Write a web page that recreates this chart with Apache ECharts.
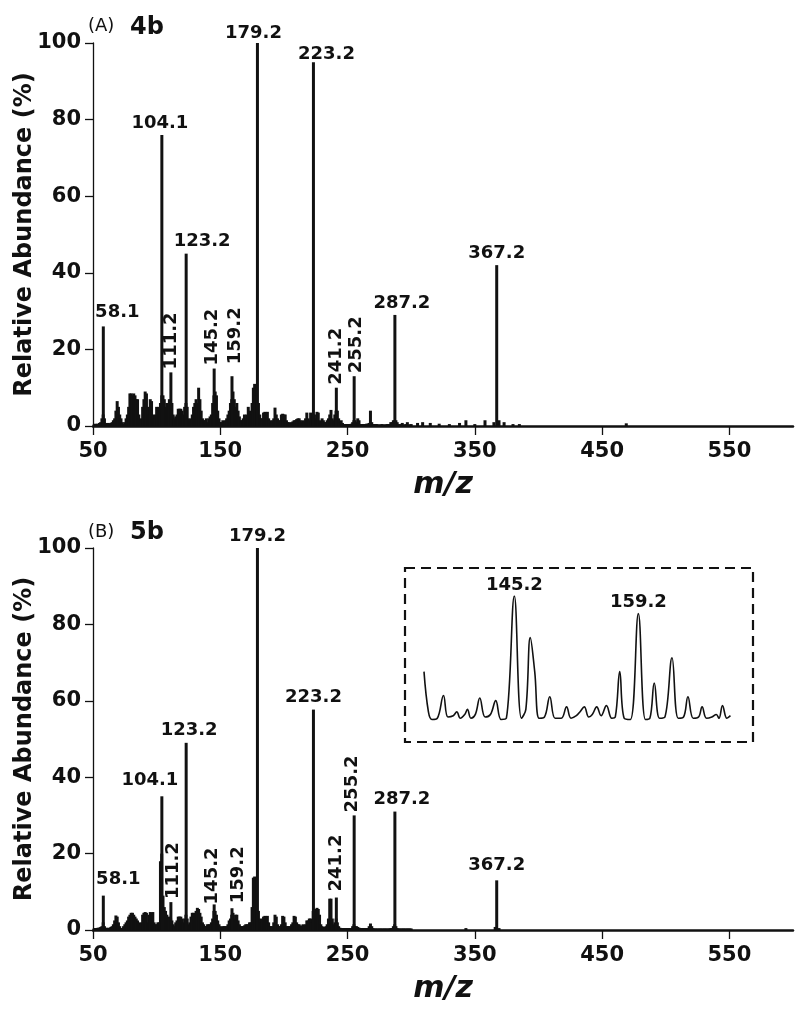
<!DOCTYPE html>
<html>
<head>
<meta charset="utf-8">
<title>ESI-MS/MS 4b / 5b</title>
<script src="https://cdn.jsdelivr.net/npm/echarts@6/dist/echarts.min.js"></script>
<style>
  html, body { margin: 0; padding: 0; background: #fff; }
  #main { width: 800px; height: 1012px; }
</style>
</head>
<body>
<div id="main"></div>
<script>
var xTicks = [50, 150, 250, 350, 450, 550];

// labelled peaks (same m/z for both spectra)
var peakMz = [58.1, 104.1, 111.2, 123.2, 145.2, 159.2, 179.2, 223.2, 241.2, 255.2, 287.2, 367.2];
var peakAbA = [26, 76, 14, 45, 15, 13, 100, 95, 10, 13, 29, 42];
var peakAbB = [9, 35, 7.3, 49, 6.7, 5.7, 100, 57.7, 8.5, 30, 31, 13];
var verticalLabels = [111.2, 145.2, 159.2, 241.2, 255.2];

// background ions, one value per m/z from 50 to 300
var noiseA = [
  0.5, 0.5, 0.6, 0.5, 0.6, 0.8, 1, 2, 3, 2,
  0.8, 0.6, 0.8, 0.6, 0.8, 1, 1.5, 2, 4, 6.5,
  5, 3, 2, 1, 0.5, 1, 2, 3, 5, 8.5,
  8.5, 8, 8.5, 8, 7, 7, 3, 1.5, 2, 5,
  7, 9, 8.5, 5, 3, 7, 6.5, 3, 2, 3,
  5, 4, 5, 6, 8, 8, 7, 5, 6, 5,
  7, 6, 6, 3, 2, 2.5, 3, 4.5, 4.5, 4.5,
  4, 3, 5, 6, 5, 2, 1.5, 2, 3, 5,
  6, 7, 6, 10, 7, 4, 2, 1.5, 1.5, 2,
  1, 2, 2.5, 3, 6, 8, 9, 8, 4, 2,
  1, 1, 1.5, 1, 1.5, 2, 3, 4, 6, 7,
  9, 7, 5, 6, 4, 2.5, 1.5, 1.5, 2, 3,
  2, 3, 5, 4, 3, 6, 10, 11, 8, 6,
  6, 3, 2, 2, 3.5, 3.7, 3.5, 3.7, 2, 1.5,
  1, 1.5, 2, 4.8, 3, 2, 1.5, 1.5, 3, 3.2,
  3, 3, 1.5, 1, 1, 0.8, 1, 1.2, 1.5, 1.5,
  1.8, 2, 2, 1.5, 1, 1.5, 1.2, 2, 3.5, 2,
  1.5, 3.5, 2, 3, 3, 2, 3.7, 3.5, 1.5, 1,
  2, 1.5, 1, 1, 1.5, 2, 3, 4.2, 2, 1.5,
  3, 4, 4, 2, 1, 1.5, 0.8, 0.5, 0.5, 0.5,
  0.5, 0.5, 0.5, 0.6, 1, 1.5, 1.5, 1, 2, 1.5,
  0.5, 0.5, 0.5, 0.5, 0.5, 0.6, 0.6, 0.8, 4, 1,
  0.5, 0.5, 0.5, 0.5, 0.4, 0.4, 0.4, 0.5, 0.4, 0.4,
  0.4, 0.5, 0.5, 0.5, 1, 1, 1.5, 1.5, 1.5, 1,
  0.5, 0.4, 0.5, 0.8, 0.4, 0.4, 0.5, 1, 0.4, 0.4, 0.5
];
var tailA = [[305, 0.8], [309, 1], [315, 0.8], [322, 0.6], [330, 0.5], [338, 0.8], [343, 1.5],
  [350, 0.5], [358, 1.5], [365, 1], [369, 1.5], [373, 1], [380, 0.5], [385, 0.5], [469, 0.7]];

var noiseB = [
  0.5, 0.5, 0.5, 0.5, 0.6, 0.6, 0.8, 1, 2, 1,
  0.6, 0.5, 0.6, 0.5, 0.8, 1, 1.5, 2.5, 3.8, 3.5,
  2, 1, 0.5, 0.5, 1, 1.5, 2, 2.5, 3.5, 4,
  4.5, 4.5, 4, 3.5, 3, 2.5, 2, 1.5, 2, 4,
  4.5, 4.7, 4.5, 2, 4, 4.7, 4.5, 4.7, 2, 1.5,
  1.5, 2, 2, 18, 20, 9, 6, 5, 4, 3,
  3.5, 3, 2.5, 1.5, 1, 2, 2.5, 3.5, 3.5, 3.5,
  3, 2, 3, 4, 3, 1.5, 2, 3.5, 4.5, 4.5,
  4, 5, 5.8, 5.5, 4.5, 3.5, 2, 1.5, 1, 1,
  1.5, 1.5, 1.5, 2, 3, 5, 5, 4, 2.5, 1.5,
  1, 0.8, 1, 1, 1, 1, 1.5, 2.5, 3, 4,
  4.5, 3, 4, 4, 2.5, 1.5, 1, 1, 1, 1.2,
  1.5, 1.5, 1.5, 2, 2, 6, 13.7, 14, 10, 5,
  5, 3, 2, 3, 3.5, 3.7, 3.5, 3.7, 2, 1,
  1, 1, 2, 4, 3.5, 1.5, 1, 1, 1.5, 3.7,
  3.5, 2, 1, 1, 1, 1, 1.5, 2, 3.7, 3.5,
  2, 1.5, 1.5, 1.2, 1, 1.5, 1.2, 1.5, 2.5, 2.5,
  3, 3, 2, 5, 5, 5.5, 5.8, 5.5, 4, 1.5,
  1, 0.8, 0.8, 1, 1.5, 3, 8.2, 8.2, 3, 1.5,
  2, 3, 2, 1, 0.6, 0.5, 0.5, 0.5, 0.5, 0.5,
  0.5, 0.5, 0.5, 0.5, 1, 1.5, 1, 1, 0.8, 0.6,
  0.5, 0.5, 0.5, 0.5, 0.5, 0.5, 0.5, 1, 1.7, 1,
  0.5, 0.4, 0.4, 0.4, 0.4, 0.4, 0.4, 0.4, 0.4, 0.4,
  0.4, 0.4, 0.4, 0.4, 0.5, 0.5, 1, 1.5, 1, 0.5,
  0.4, 0.4, 0.4, 0.4, 0.4, 0.4, 0.4, 0.4, 0.4, 0.4, 0.4
];
var tailB = [[343, 0.5], [366, 0.8], [369, 0.5]];

// inset of 5b, profile trace m/z 135-170
var insetMz = [135.0, 135.5, 135.9, 136.5, 137.2, 137.7, 138.3, 138.7, 139.1, 139.6, 139.9, 140.3, 140.8,
  141.3, 141.9, 142.5, 143.1, 143.7, 144.3, 145.2, 146.0, 146.5, 147.0, 147.5, 148.0, 148.6, 149.2,
  149.8, 150.5, 151.1, 151.6, 152.2, 152.6, 153.1, 153.6, 154.0, 154.5, 155.0, 155.6, 156.2, 156.6,
  157.1, 157.6, 158.3, 159.2, 160.0, 160.5, 161.0, 161.6, 162.2, 163.0, 163.7, 164.3, 164.8, 165.4,
  166.0, 166.4, 166.9, 167.5, 168.0, 168.3, 168.7, 169.2, 169.6];
var insetAb = [40, 8, 2, 3, 21, 4, 5, 8, 3, 6, 10, 3, 6,
  19, 4, 6, 17, 2, 3, 100, 3, 10, 67, 40, 3, 4, 20,
  3, 3, 12, 3, 5, 8, 12, 4, 6, 12, 5, 13, 3, 4,
  40, 3, 2, 86, 2, 3, 31, 3, 4, 51, 3, 4, 20, 3,
  4, 12, 3, 4, 6, 3, 13, 3, 5];
var insetLabels = [145.2, 159.2];

var FONT = 'DejaVu Sans';
var INK = '#111';

// small screen shifts [dx, dy] of peak labels, as placed in the figure
var labelNudge = {
  A: {'58.1': [14, -2], '104.1': [-2, 0], '123.2': [16, 0], '179.2': [-4, 2], '223.2': [13, 4],
      '287.2': [7, 0], '145.2': [-2, 0], '159.2': [3, -9], '255.2': [2, 0]},
  B: {'58.1': [15, -4], '104.1': [-12, -4], '111.2': [2, 0], '123.2': [3, 0], '145.2': [-2, 3],
      '159.2': [6, -2], '241.2': [0, -3], '255.2': [-2, 0], '287.2': [7, 0], '367.2': [0, -3]}
};

function buildSticks(noise, tail, abs, panel) {
  var data = [];
  for (var i = 0; i < noise.length; i++) {
    data.push([50 + i, noise[i]]);
  }
  tail.forEach(function (p) { data.push(p); });
  peakMz.forEach(function (mz, i) {
    var vertical = verticalLabels.indexOf(mz) >= 0;
    var key = mz.toFixed(1);
    var n = labelNudge[panel][key] || [0, 0];
    // rotated labels take their offset in the text's own frame
    var off = vertical ? [-n[1], n[0]] : n;
    data.push({
      value: [mz, abs[i]],
      label: {
        show: true,
        formatter: key,
        position: 'top',
        distance: 3,
        rotate: vertical ? 90 : 0,
        align: vertical ? 'left' : 'center',
        verticalAlign: vertical ? 'middle' : 'bottom',
        offset: off,
        fontFamily: FONT,
        fontWeight: 'bold',
        fontSize: 18,
        color: INK
      }
    });
  });
  return data;
}

function xAxisOf(gridIndex) {
  return {
    type: 'value', gridIndex: gridIndex, min: 50, max: 600, interval: 50,
    name: 'm/z', nameLocation: 'middle', nameGap: 44,
    nameTextStyle: {fontFamily: FONT, fontWeight: 'bold', fontStyle: 'italic', fontSize: 30, color: INK},
    axisLine: {lineStyle: {color: INK, width: 2.5}},
    axisTick: {show: true, length: 9, lineStyle: {color: INK, width: 1.3}, customValues: xTicks},
    axisLabel: {fontFamily: FONT, fontWeight: 'bold', fontSize: 21, color: INK, margin: 15, customValues: xTicks},
    splitLine: {show: false}
  };
}

function yAxisOf(gridIndex) {
  return {
    type: 'value', gridIndex: gridIndex, min: 0, max: 100, interval: 20,
    name: 'Relative Abundance (%)', nameLocation: 'middle', nameGap: 56, nameMoveOverlap: false,
    nameTextStyle: {fontFamily: FONT, fontWeight: 'bold', fontSize: 24, color: INK},
    axisLine: {show: true, lineStyle: {color: INK, width: 1.3}},
    axisTick: {show: true, length: 8, lineStyle: {color: INK, width: 1.3}},
    axisLabel: {fontFamily: FONT, fontWeight: 'bold', fontSize: 21, color: INK, margin: 12},
    splitLine: {show: false}
  };
}

function insetLabelData() {
  return insetLabels.map(function (mz) {
    var k = insetMz.indexOf(mz);
    return [mz, insetAb[k]];
  });
}

var chart = echarts.init(document.getElementById('main'));
chart.setOption({
  animation: false,
  backgroundColor: '#fff',
  grid: [
    {left: 93, top: 43, width: 700, height: 383, outerBoundsMode: 'none'},
    {left: 93, top: 548, width: 700, height: 382, outerBoundsMode: 'none'},
    {left: 424, top: 596, width: 310, height: 126, outerBoundsMode: 'none'}
  ],
  xAxis: [
    xAxisOf(0),
    xAxisOf(1),
    {type: 'value', gridIndex: 2, min: 135, max: 170, show: false}
  ],
  yAxis: [
    yAxisOf(0),
    yAxisOf(1),
    {type: 'value', gridIndex: 2, min: 0, max: 100, show: false}
  ],
  series: [
    {
      type: 'bar', xAxisIndex: 0, yAxisIndex: 0, barWidth: 3,
      itemStyle: {color: INK}, data: buildSticks(noiseA, tailA, peakAbA, 'A')
    },
    {
      type: 'bar', xAxisIndex: 1, yAxisIndex: 1, barWidth: 3,
      itemStyle: {color: INK}, data: buildSticks(noiseB, tailB, peakAbB, 'B')
    },
    {
      type: 'line', xAxisIndex: 2, yAxisIndex: 2, smooth: 0.4, symbol: 'none',
      lineStyle: {color: INK, width: 1.6},
      data: insetMz.map(function (mz, i) { return [mz, insetAb[i]]; })
    },
    {
      type: 'scatter', xAxisIndex: 2, yAxisIndex: 2, symbolSize: 0,
      itemStyle: {opacity: 1},
      emphasis: {disabled: true},
      label: {
        show: true, position: 'top', distance: 2,
        formatter: function (p) { return p.value[0].toFixed(1); },
        fontFamily: FONT, fontWeight: 'bold', fontSize: 18, color: INK
      },
      data: insetLabelData()
    }
  ],
  graphic: [
    {type: 'rect', shape: {x: 405, y: 568, width: 348, height: 174},
      style: {fill: 'none', stroke: INK, lineWidth: 2.2, lineDash: [10, 6]}},
    {type: 'text', x: 88, y: 26, style: {text: '(A)', fontFamily: FONT, fontSize: 18, fill: INK, textVerticalAlign: 'middle'}},
    {type: 'text', x: 130, y: 28, style: {text: '4b', fontFamily: FONT, fontWeight: 'bold', fontSize: 24, fill: INK, textVerticalAlign: 'middle'}},
    {type: 'text', x: 88, y: 532, style: {text: '(B)', fontFamily: FONT, fontSize: 18, fill: INK, textVerticalAlign: 'middle'}},
    {type: 'text', x: 130, y: 533, style: {text: '5b', fontFamily: FONT, fontWeight: 'bold', fontSize: 24, fill: INK, textVerticalAlign: 'middle'}}
  ]
});
</script>
</body>
</html>
